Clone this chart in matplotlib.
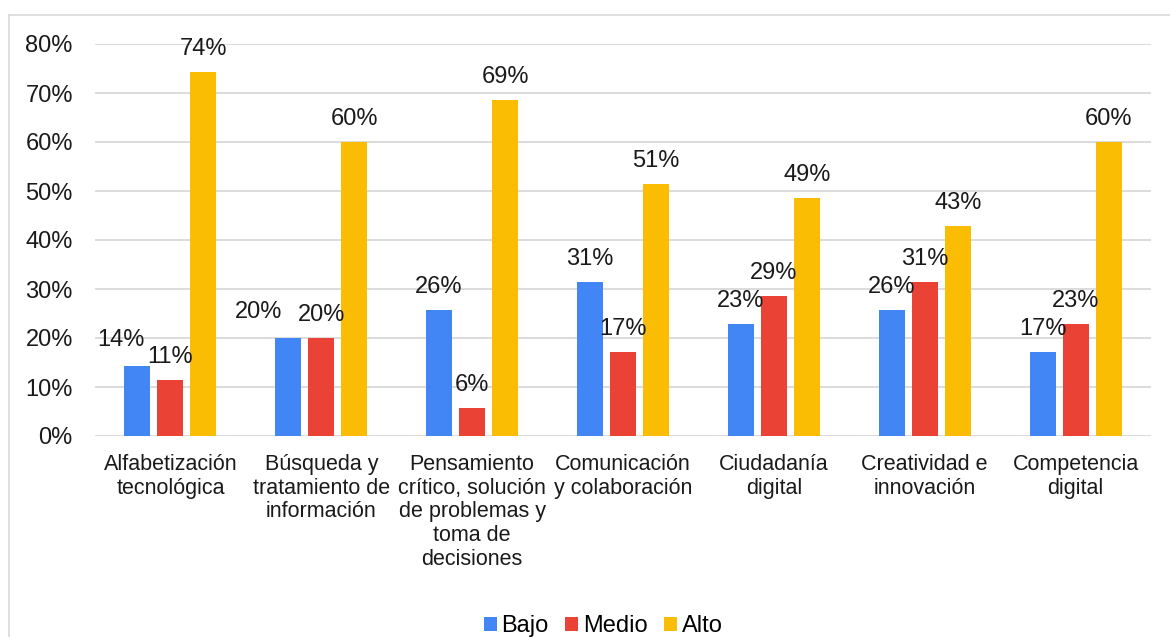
import matplotlib

matplotlib.use("Agg")

import matplotlib.pyplot as plt
import numpy as np
from matplotlib.lines import Line2D
from matplotlib.patches import Patch

plt.rcParams["font.family"] = ["Liberation Sans", "DejaVu Sans"]

categorias = [
    "Alfabetización\ntecnológica",
    "Búsqueda y\ntratamiento de\ninformación",
    "Pensamiento\ncrítico, solución\nde problemas y\ntoma de\ndecisiones",
    "Comunicación\ny colaboración",
    "Ciudadanía\ndigital",
    "Creatividad e\ninnovación",
    "Competencia\ndigital",
]
bajo = [14.29, 20.00, 25.71, 31.43, 22.86, 25.71, 17.14]
medio = [11.43, 20.00, 5.71, 17.14, 28.57, 31.43, 22.86]
alto = [74.29, 60.00, 68.57, 51.43, 48.57, 42.86, 60.00]
series = ["Bajo", "Medio", "Alto"]
colores = ["#4285F4", "#EA4335", "#FBBC04"]
yticks = [0, 10, 20, 30, 40, 50, 60, 70, 80]

# etiquetas desplazadas (en puntos) para que no se pisen con la vecina
desplazar = {(0, 0): (-12, 2.5), (0, 1): (-21.5, 2.5)}

W, H = 1170, 637
fig = plt.figure(figsize=(W / 100, H / 100), dpi=100)
ax = fig.add_axes([95 / W, 1 - 436 / H, (1151 - 95) / W, (436 - 44) / H])

x = np.arange(len(categorias))
ancho = 0.172
paso = 0.219
for i, (nombre, valores, color) in enumerate(zip(series, [bajo, medio, alto], colores)):
    pos = x + (i - 1) * paso
    ax.bar(pos, valores, width=ancho, color=color, zorder=3)
    for j, (px_, v) in enumerate(zip(pos, valores)):
        dx, dy = desplazar.get((i, j), (0, 0))
        ax.annotate(f"{v:.0f}%", (px_, v), xytext=(dx, 12 + dy), textcoords="offset points",
                    ha="center", va="baseline", fontsize=17, color="#1a1a1a", zorder=4)

ax.set_xlim(-0.5, len(categorias) - 0.5)
ax.set_ylim(0, 80)
ax.set_yticks(yticks)
ax.set_yticklabels([f"{t}%" for t in yticks], fontsize=17, color="#1a1a1a")
ax.set_xticks(x)
ax.set_xticklabels(categorias, fontsize=15.5, color="#1a1a1a", linespacing=1.17)
ax.tick_params(axis="y", length=0, pad=16)
ax.tick_params(axis="x", length=0, pad=13)
ax.grid(axis="y", color="#d9d9d9", linewidth=1.3, zorder=0)
for s in ax.spines.values():
    s.set_visible(False)

# marco exterior del gráfico
fig.add_artist(Line2D([9 / W, 9 / W], [0, 1 - 15 / H], color="#d9d9d9", lw=1.2))
fig.add_artist(Line2D([9 / W, 1], [1 - 15 / H, 1 - 15 / H], color="#d9d9d9", lw=1.2))

handles = [Patch(facecolor=c, edgecolor="none", label=n) for n, c in zip(series, colores)]
fig.legend(handles=handles, loc="center", bbox_to_anchor=(603 / W, 1 - 626 / H),
           ncol=3, frameon=False, fontsize=17, handlelength=0.55, handleheight=0.55,
           handletextpad=0.2, columnspacing=0.7, borderpad=0)

fig.savefig("out.png", dpi=100)
